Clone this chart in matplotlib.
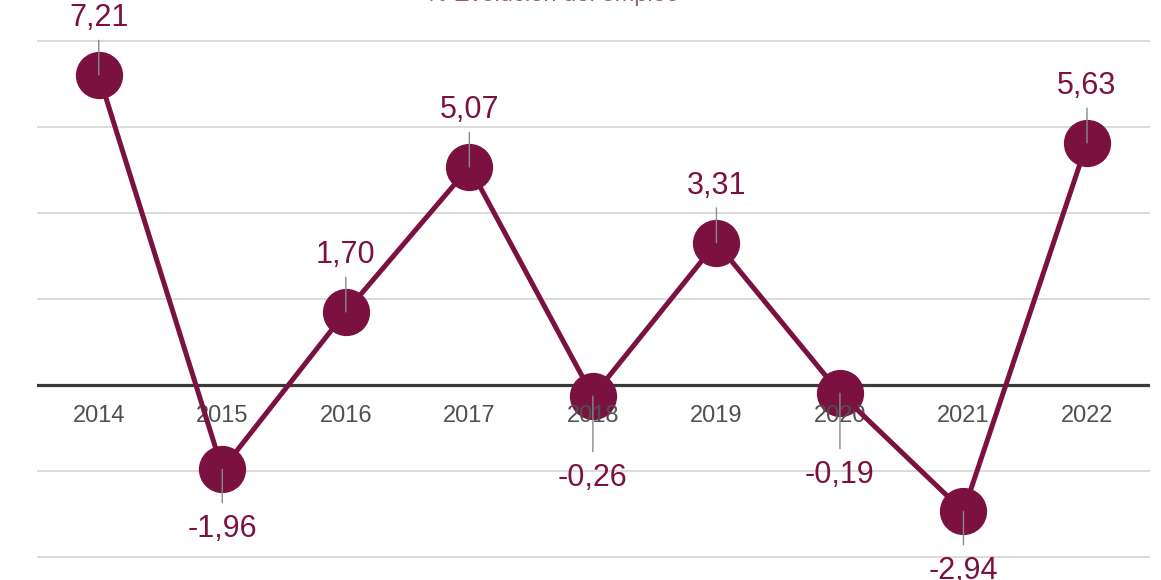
import matplotlib
matplotlib.use("Agg")
import matplotlib.pyplot as plt

years = ["2014", "2015", "2016", "2017", "2018", "2019", "2020", "2021", "2022"]
values = [7.21, -1.96, 1.70, 5.07, -0.26, 3.31, -0.19, -2.94, 5.63]
title = "% Evolución del empleo"

maroon = "#7b1141"
fam = ["Liberation Sans Narrow", "Liberation Sans", "DejaVu Sans"]

fig = plt.figure(figsize=(11.61, 5.80), dpi=100)
# axes spans the gridline area horizontally, full height vertically
ax = fig.add_axes([37 / 1161, 0, (1150 - 37) / 1161, 1])
ax.set_xlim(-0.5, 8.51)
ax.set_ylim(-4.535, 8.953)
ax.axis("off")

for g in [-4, -2, 2, 4, 6, 8]:
    ax.axhline(g, color="#d4d4d4", lw=1.2, zorder=0)
ax.axhline(0, color="#3a3a3a", lw=2.3, zorder=1)

xs = list(range(len(years)))

ax.plot(xs, values, color=maroon, lw=0, marker="o", markersize=33,
        zorder=2, clip_on=False)

# year labels under the zero line
for i, y in enumerate(years):
    ax.annotate(y, (i, 0), xytext=(0, -22), textcoords="offset points",
                ha="center", va="center", fontsize=17, color="#505050",
                family=fam, zorder=3)

ax.plot(xs, values, color=maroon, lw=3.6, zorder=4, clip_on=False)

for i, v in enumerate(values):
    s = f"{v:.2f}".replace(".", ",")
    if v >= 0:
        lead, off, va = 25, 35, "baseline"
    elif v > -1:
        # push below the year labels
        lead, off, va = -40, -48, "top"
    else:
        lead, off, va = -24, -32, "top"
    ax.annotate("", xy=(i, v), xytext=(0, lead), textcoords="offset points",
                arrowprops=dict(arrowstyle="-", color="#8a8a8a", lw=1.0,
                                shrinkA=0, shrinkB=0), zorder=5)
    ax.annotate(s, (i, v), xytext=(0, off), textcoords="offset points",
                ha="center", va=va, fontsize=22, color=maroon, family=fam,
                zorder=6, annotation_clip=False)

fig.text(0.476, 1 - 1 / 580, title, ha="center", va="baseline",
         fontsize=17, color="#a05a78", family=fam)

fig.savefig("out.png", dpi=100)
